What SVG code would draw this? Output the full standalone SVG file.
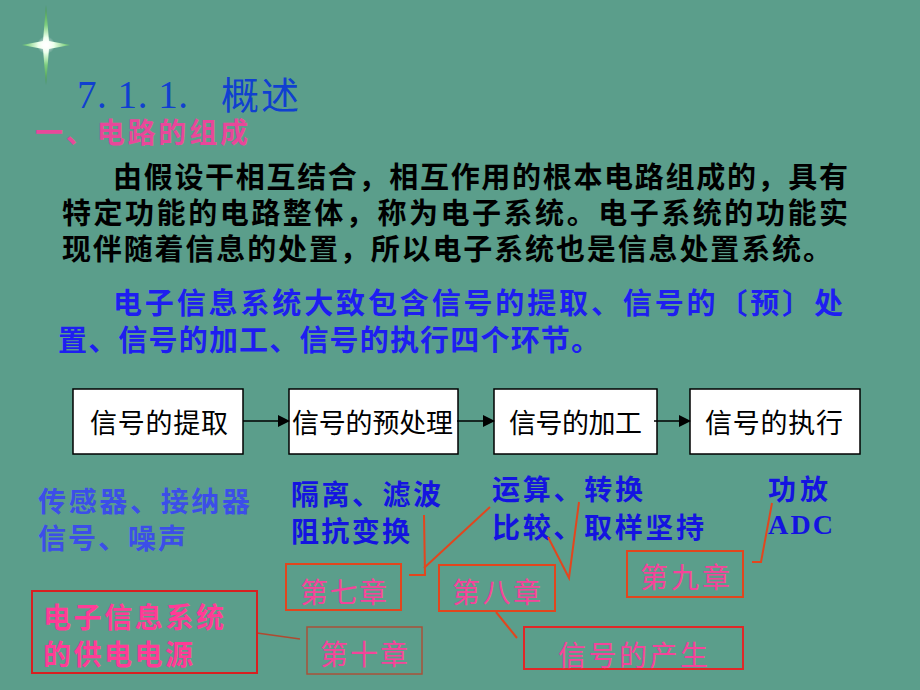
<svg xmlns="http://www.w3.org/2000/svg" width="920" height="690" viewBox="0 0 920 690">
<defs>
<radialGradient id="starg" cx="46" cy="45" r="40" gradientUnits="userSpaceOnUse">
<stop offset="0" stop-color="#ffffff"/>
<stop offset="0.2" stop-color="#e8ffe8"/>
<stop offset="0.5" stop-color="#7fcf7f"/>
<stop offset="1" stop-color="#3f8f45"/>
</radialGradient>
<radialGradient id="glow" cx="0.5" cy="0.5" r="0.5">
<stop offset="0" stop-color="#ffffff" stop-opacity="1"/>
<stop offset="1" stop-color="#ffffff" stop-opacity="0"/>
</radialGradient>
<marker id="arr" viewBox="0 0 12 12" refX="11" refY="6" markerWidth="12" markerHeight="12" markerUnits="userSpaceOnUse" orient="auto">
<path d="M0,0 L12,6 L0,12 Z" fill="#000"/>
</marker>
<style>
.para{font-family:"Noto Sans CJK SC",sans-serif;font-weight:bold;font-size:29px;}
.box{fill:#fff;stroke:#000;stroke-width:1.5;}
.boxt{font-family:"Liberation Serif","Noto Sans CJK SC",serif;font-size:27px;fill:#000;}
.blue{fill:#1414e0;}
.lblue{fill:#3c4ee8;}
.note{font-family:"Noto Sans CJK SC",sans-serif;font-weight:bold;font-size:28px;}
.rbox{fill:none;stroke:#e2461e;stroke-width:2;}
.pink{fill:#f5449a;font-family:"Noto Sans CJK SC",sans-serif;font-size:28px;}
.conn{fill:none;stroke:#e2461e;stroke-width:2;}
</style>
</defs>
<rect width="920" height="690" fill="#5b9e8b"/>

<g id="star">
<path d="M46,5 L49,41 L70,45 L49,49 L46,85 L43,49 L22,45 L43,41 Z" fill="url(#starg)"/>
<circle cx="46" cy="45" r="9" fill="url(#glow)"/>
</g>

<g id="title">
<text x="77" y="108" font-family="Liberation Serif,serif" font-size="39" fill="#1040d0" textLength="111" lengthAdjust="spacing">7. 1. 1.</text>
<text x="221" y="109" font-family="Noto Sans CJK SC,sans-serif" font-size="38" fill="#1040d0" textLength="78" lengthAdjust="spacing">概述</text>
<text x="35" y="143" font-family="Noto Sans CJK SC,sans-serif" font-weight="bold" font-size="28" fill="#e8489a" textLength="213" lengthAdjust="spacing">一、电路的组成</text>
</g>

<g id="paragraph1" class="para" fill="#000">
<text x="113" y="188" textLength="735" lengthAdjust="spacing">由假设干相互结合，相互作用的根本电路组成的，具有</text>
<text x="62" y="224" textLength="786" lengthAdjust="spacing">特定功能的电路整体，称为电子系统。电子系统的功能实</text>
<text x="62" y="260" textLength="770" lengthAdjust="spacing">现伴随着信息的处置，所以电子系统也是信息处置系统。</text>
</g>

<g id="paragraph2" class="para" fill="#1e1ef0">
<text x="113" y="314" textLength="730" lengthAdjust="spacing">电子信息系统大致包含信号的提取、信号的〔预〕处</text>
<text x="58" y="351" textLength="542" lengthAdjust="spacing">置、信号的加工、信号的执行四个环节。</text>
</g>

<g id="n1"><rect class="box" x="73" y="389" width="170" height="65"/><text class="boxt" x="90" y="433" textLength="138" lengthAdjust="spacing">信号的提取</text></g>
<g id="n2"><rect class="box" x="289" y="389" width="169" height="65"/><text class="boxt" x="292" y="433" textLength="161" lengthAdjust="spacing">信号的预处理</text></g>
<g id="n3"><rect class="box" x="494" y="389" width="163" height="65"/><text class="boxt" x="509" y="433" textLength="133" lengthAdjust="spacing">信号的加工</text></g>
<g id="n4"><rect class="box" x="690" y="389" width="170" height="65"/><text class="boxt" x="705" y="433" textLength="138" lengthAdjust="spacing">信号的执行</text></g>

<g id="flow" stroke="#000" stroke-width="1.5" fill="none">
<line x1="243" y1="421" x2="289" y2="421" marker-end="url(#arr)"/>
<line x1="457" y1="421" x2="494" y2="421" marker-end="url(#arr)"/>
<line x1="654" y1="421" x2="690" y2="421" marker-end="url(#arr)"/>
</g>

<g id="notes" class="note">
<text class="lblue" x="38" y="512" textLength="212" lengthAdjust="spacing">传感器、接纳器</text>
<text class="lblue" x="38" y="549" textLength="148" lengthAdjust="spacing">信号、噪声</text>
<text class="blue" x="291" y="505" textLength="150" lengthAdjust="spacing">隔离、滤波</text>
<text class="blue" x="291" y="542" textLength="119" lengthAdjust="spacing">阻抗变换</text>
<text class="blue" x="492" y="500" textLength="151" lengthAdjust="spacing">运算、转换</text>
<text class="blue" x="492" y="538" textLength="212" lengthAdjust="spacing">比较、取样坚持</text>
<text class="blue" x="768" y="500" textLength="60" lengthAdjust="spacing">功放</text>
<text class="blue" x="768" y="534" font-family="Liberation Serif,serif" font-size="28" textLength="65" lengthAdjust="spacing">ADC</text>
</g>

<g id="connectors">
<polyline class="conn" points="409,575 425,575 424,515"/>
<line class="conn" x1="424" y1="568" x2="490" y2="507"/>
<polyline class="conn" points="548,537 569,578 579,502"/>
<polyline class="conn" points="752,562 761,562 772,503"/>
<line class="conn" x1="496" y1="612" x2="517" y2="638"/>
<line x1="257" y1="633" x2="300" y2="639" stroke="#b04a30" stroke-width="1.5"/>
</g>

<g id="ch7"><rect class="rbox" x="286" y="564" width="115" height="46"/><text class="pink" x="300" y="603" textLength="87" lengthAdjust="spacing">第七章</text></g>
<g id="ch8"><rect class="rbox" x="439" y="565" width="116" height="46"/><text class="pink" x="452" y="603" textLength="89" lengthAdjust="spacing">第八章</text></g>
<g id="ch9"><rect class="rbox" x="627" y="551" width="116" height="46"/><text class="pink" x="640" y="588" textLength="90" lengthAdjust="spacing">第九章</text></g>
<g id="signal"><rect x="524" y="627" width="219" height="42" fill="none" stroke="#e02828" stroke-width="2"/><text class="pink" x="558" y="666" font-size="30" textLength="150" lengthAdjust="spacing">信号的产生</text></g>
<g id="power"><rect x="32" y="591" width="225" height="82" fill="none" stroke="#d82020" stroke-width="2"/>
<text x="43" y="628" font-family="Noto Sans CJK SC,sans-serif" font-weight="bold" font-size="28" fill="#ff3c96" textLength="181" lengthAdjust="spacing">电子信息系统</text>
<text x="43" y="665" font-family="Noto Sans CJK SC,sans-serif" font-weight="bold" font-size="28" fill="#ff3c96" textLength="150" lengthAdjust="spacing">的供电电源</text></g>
<g id="ch10"><rect x="307" y="627" width="115" height="47" fill="none" stroke="#a8523a" stroke-width="1.5"/><text class="pink" x="320" y="665" textLength="88" lengthAdjust="spacing">第十章</text></g>
</svg>
